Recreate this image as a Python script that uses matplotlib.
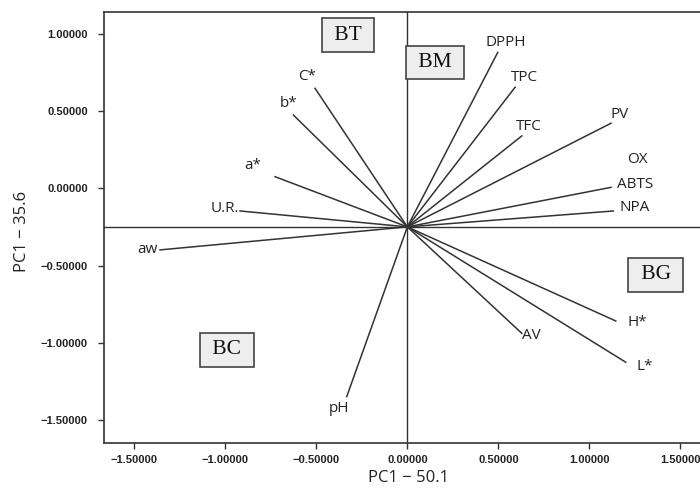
import numpy as np
import matplotlib
matplotlib.use("Agg")
import matplotlib.pyplot as plt

# Variables du biplot (extrémités des vecteurs)
variables = ["C*", "b*", "a*", "U.R.", "aw", "pH", "DPPH", "TPC", "TFC",
             "PV", "OX", "ABTS", "NPA", "H*", "L*", "AV"]
pc1 = [-0.507, -0.626, -0.727, -0.919, -1.359, -0.333, 0.497, 0.592, 0.629,
       1.119, 1.119, 1.119, 1.132, 1.145, 1.200, 0.629]
pc2 = [0.647, 0.474, 0.075, -0.147, -0.399, -1.349, 0.880, 0.654, 0.339,
       0.421, 0.006, 0.006, -0.147, -0.859, -1.126, -0.939]

# Origine des vecteurs
x0, y0 = 0.0, -0.25

# Groupes (encadrés)
groupes = ["BT", "BM", "BC", "BG"]
gx = [-0.324, 0.153, -0.992, 1.365]
gy = [0.992, 0.815, -1.047, -0.561]

xticks = [-1.5, -1.0, -0.5, 0.0, 0.5, 1.0, 1.5]
yticks = [-1.5, -1.0, -0.5, 0.0, 0.5, 1.0]

# décalage des étiquettes (pixels)
decal = {"C*": (-8, 12), "b*": (-5, 12), "a*": (-22, 11), "U.R.": (-15, 2),
         "aw": (-13, 0), "pH": (-8, -12), "DPPH": (8, 10), "TPC": (9, 10),
         "TFC": (7, 9), "PV": (9, 9), "OX": (26, 28), "ABTS": (24, 3),
         "NPA": (21, 3), "H*": (22, -2), "L*": (19, -4), "AV": (10, -2)}

def fmt(t):
    return "%.5f" % t if t >= 0 else "\u2212%.5f" % -t

fig = plt.figure(figsize=(7, 4.95), dpi=100)
ax = fig.add_axes([0.149, 0.1057, 0.851, 0.8694])
col = "#333333"

ax.axhline(y0, color=col, lw=1)
ax.axvline(x0, color=col, lw=1)

for nom, x, y in zip(variables, pc1, pc2):
    if nom != "OX":
        ax.plot([x0, x], [y0, y], color=col, lw=1.1)
    dx, dy = decal[nom]
    ax.annotate(nom, (x, y), xytext=(dx, dy), textcoords="offset pixels",
                ha="center", va="center", fontsize=11, family="Open Sans",
                color="#222222")

for g, x, y in zip(groupes, gx, gy):
    ax.text(x, y, " " + g + " ", ha="center", va="center", fontsize=15.5,
            family="Liberation Serif", color="#111111",
            bbox=dict(boxstyle="square,pad=0.33", fc="#eeeeee", ec="#444444", lw=1.2))

ax.set_xticks(xticks)
ax.set_yticks(yticks)
ax.set_xticklabels([fmt(t) for t in xticks])
ax.set_yticklabels([fmt(t) for t in yticks])
ax.set_xlim(-1.665, 1.608)
ax.set_ylim(-1.647, 1.139)
for lab in ax.get_xticklabels() + ax.get_yticklabels():
    lab.set_fontsize(8)
    lab.set_fontweight("bold")
    lab.set_family("Liberation Sans")
    lab.set_color("#222222")
ax.tick_params(direction="out", length=4, width=1, color=col)
ax.tick_params(axis="x", pad=5)
ax.tick_params(axis="y", pad=8)

for s in ax.spines.values():
    s.set_color(col)
    s.set_linewidth(1.2)
ax.spines["right"].set_visible(False)

ax.set_xlabel("PC1 \u2212 50.1", fontsize=12, family="Open Sans", color="#222222")
ax.set_ylabel("PC1 \u2212 35.6", fontsize=12, family="Open Sans", color="#222222")
ax.xaxis.set_label_coords(0.51, -0.063)
ax.yaxis.set_label_coords(-0.124, 0.49)

fig.savefig("out.png", dpi=100)
